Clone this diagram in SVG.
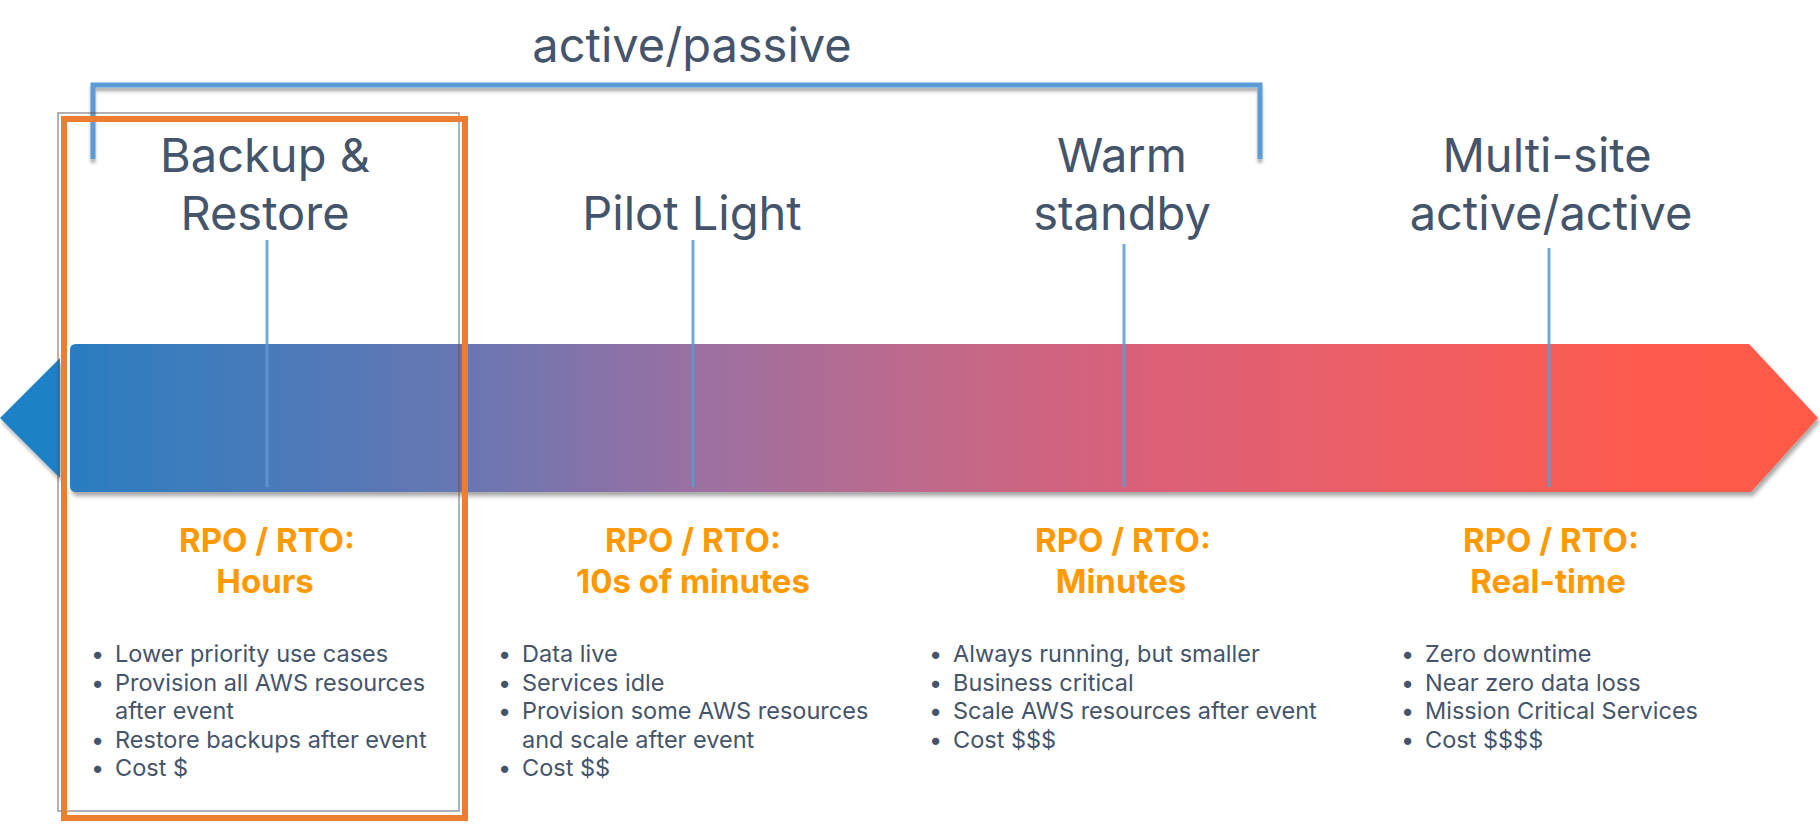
<svg xmlns="http://www.w3.org/2000/svg" width="1820" height="837" viewBox="0 0 1820 837">
  <defs>
    <linearGradient id="barGrad" gradientUnits="userSpaceOnUse" x1="0" y1="0" x2="1820" y2="0">
      <stop offset="0" stop-color="#1580c6"/>
      <stop offset="0.04" stop-color="#2a7dc1"/>
      <stop offset="0.25" stop-color="#6777b3"/>
      <stop offset="0.38" stop-color="#9a70a2"/>
      <stop offset="0.5" stop-color="#bd6a8c"/>
      <stop offset="0.62" stop-color="#d9617a"/>
      <stop offset="0.75" stop-color="#ec5e67"/>
      <stop offset="0.9" stop-color="#fc5a4e"/>
      <stop offset="1" stop-color="#ff5a45"/>
    </linearGradient>
    <filter id="shadow" x="-5%" y="-20%" width="110%" height="140%">
      <feDropShadow dx="2" dy="4" stdDeviation="2" flood-color="#000" flood-opacity="0.35"/>
    </filter>
    <filter id="lineShadow" x="-5%" y="-20%" width="110%" height="140%">
      <feDropShadow dx="0" dy="4" stdDeviation="1.5" flood-color="#000" flood-opacity="0.3"/>
    </filter>
  </defs>
  <style>
    .title { font-family: Inter, "Open Sans", "Liberation Sans", sans-serif; font-size: 47px; fill: #44546a; text-anchor: middle; }
    .rpo { font-family: Inter, "Open Sans", "Liberation Sans", sans-serif; font-size: 33px; font-weight: bold; fill: #ff9900; text-anchor: middle; }
    .item { font-family: Inter, "Open Sans", "Liberation Sans", sans-serif; font-size: 23.5px; fill: #44546a; }
    .tick { stroke: #5b9bd5; stroke-width: 3; fill: none; stroke-opacity: 0.85; }
    .bracket { stroke: #5b9bd5; stroke-width: 5; fill: none; }
  </style>

  <!-- timeline band -->
  <g id="timeline" filter="url(#shadow)">
    <polygon points="0,418 60,358 60,478" fill="#1a82c5"/>
    <path d="M76,344 H1749 L1818,418 L1751,492 H76 Q70,492 70,486 V350 Q70,344 76,344 Z" fill="url(#barGrad)"/>
  </g>

  <!-- connectors: active/passive bracket and marker lines -->
  <g id="connectors">
    <path class="bracket" filter="url(#lineShadow)" d="M93,159 V85 H1260 V159"/>
    <line class="tick" x1="267" y1="240" x2="267" y2="487"/>
    <line class="tick" x1="693" y1="240" x2="693" y2="487"/>
    <line class="tick" x1="1124" y1="244" x2="1124" y2="487"/>
    <line class="tick" x1="1549" y1="248" x2="1549" y2="487"/>
  </g>

  <g id="active-passive">
    <text class="title" x="692" y="62">active/passive</text>
  </g>

  <!-- highlighted first strategy -->
  <g id="highlight">
    <rect x="58" y="113" width="401" height="698" fill="none" stroke="#555" stroke-opacity="0.6" stroke-width="1.5"/>
    <rect x="64" y="119" width="401" height="699" fill="none" stroke="#ed7d31" stroke-width="6"/>
  </g>

  <g id="backup-restore">
    <text class="title" x="265" y="172">Backup &amp;</text>
    <text class="title" x="265" y="230">Restore</text>
    <text class="rpo" x="267" y="552">RPO / RTO:</text>
    <text class="rpo" x="265" y="593">Hours</text>
    <text class="item">
      <tspan x="91" y="662">•</tspan><tspan x="115" y="662">Lower priority use cases</tspan>
      <tspan x="91" y="690.6">•</tspan><tspan x="115" y="690.6">Provision all AWS resources</tspan>
      <tspan x="115" y="719.2">after event</tspan>
      <tspan x="91" y="747.8">•</tspan><tspan x="115" y="747.8">Restore backups after event</tspan>
      <tspan x="91" y="776.4">•</tspan><tspan x="115" y="776.4">Cost $</tspan>
    </text>
  </g>

  <g id="pilot-light">
    <text class="title" x="692" y="230">Pilot Light</text>
    <text class="rpo" x="693" y="552">RPO / RTO:</text>
    <text class="rpo" x="693" y="593">10s of minutes</text>
    <text class="item">
      <tspan x="498" y="662">•</tspan><tspan x="522" y="662">Data live</tspan>
      <tspan x="498" y="690.6">•</tspan><tspan x="522" y="690.6">Services idle</tspan>
      <tspan x="498" y="719.2">•</tspan><tspan x="522" y="719.2">Provision some AWS resources</tspan>
      <tspan x="522" y="747.8">and scale after event</tspan>
      <tspan x="498" y="776.4">•</tspan><tspan x="522" y="776.4">Cost $$</tspan>
    </text>
  </g>

  <g id="warm-standby">
    <text class="title" x="1122" y="172">Warm</text>
    <text class="title" x="1122" y="230">standby</text>
    <text class="rpo" x="1123" y="552">RPO / RTO:</text>
    <text class="rpo" x="1121" y="593">Minutes</text>
    <text class="item">
      <tspan x="929" y="662">•</tspan><tspan x="953" y="662">Always running, but smaller</tspan>
      <tspan x="929" y="690.6">•</tspan><tspan x="953" y="690.6">Business critical</tspan>
      <tspan x="929" y="719.2">•</tspan><tspan x="953" y="719.2">Scale AWS resources after event</tspan>
      <tspan x="929" y="747.8">•</tspan><tspan x="953" y="747.8">Cost $$$</tspan>
    </text>
  </g>

  <g id="multi-site">
    <text class="title" x="1547" y="172">Multi-site</text>
    <text class="title" x="1551" y="230">active/active</text>
    <text class="rpo" x="1551" y="552">RPO / RTO:</text>
    <text class="rpo" x="1548" y="593">Real-time</text>
    <text class="item">
      <tspan x="1401" y="662">•</tspan><tspan x="1425" y="662">Zero downtime</tspan>
      <tspan x="1401" y="690.6">•</tspan><tspan x="1425" y="690.6">Near zero data loss</tspan>
      <tspan x="1401" y="719.2">•</tspan><tspan x="1425" y="719.2">Mission Critical Services</tspan>
      <tspan x="1401" y="747.8">•</tspan><tspan x="1425" y="747.8">Cost $$$$</tspan>
    </text>
  </g>
</svg>
